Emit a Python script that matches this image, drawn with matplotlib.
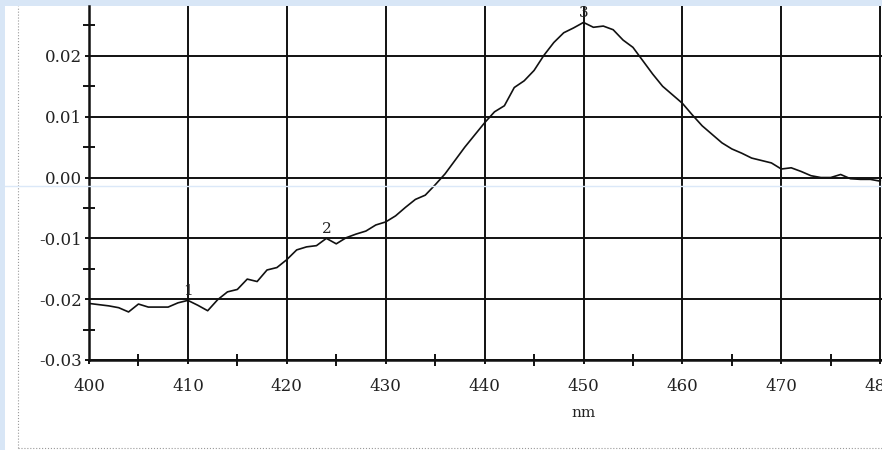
import numpy as np
import matplotlib.pyplot as plt
from matplotlib.patches import Rectangle
from matplotlib.lines import Line2D
from matplotlib.ticker import FixedLocator, FormatStrFormatter

# Spectrum (1 nm steps)
wavelength = np.arange(400, 481)
absorbance = [
    -0.0207, -0.0209, -0.0211, -0.0214, -0.0221, -0.0208, -0.0213, -0.0213, -0.0213, -0.0206,
    -0.0202, -0.0210, -0.0219, -0.0201, -0.0188, -0.0184, -0.0167, -0.0171, -0.0152, -0.0148,
    -0.0135, -0.0119, -0.0114, -0.0112, -0.0100, -0.0109, -0.0099, -0.0093, -0.0088, -0.0078,
    -0.0073, -0.0063, -0.0049, -0.0036, -0.0029, -0.0012, 0.0006, 0.0028, 0.0050, 0.0070,
    0.0090, 0.0108, 0.0118, 0.0148, 0.0159, 0.0176, 0.0201, 0.0222, 0.0238, 0.0246,
    0.0255, 0.0247, 0.0249, 0.0243, 0.0226, 0.0214, 0.0192, 0.0170, 0.0150, 0.0136,
    0.0122, 0.0103, 0.0085, 0.0071, 0.0057, 0.0047, 0.0040, 0.0032, 0.0028, 0.0024,
    0.0014, 0.0016, 0.0010, 0.0003, 0.0000, 0.0000, 0.0005, -0.0002, -0.0003, -0.0003,
    -0.0006,
]

# Marked peaks
peak_labels = ["1", "2", "3"]
peak_nm = [410, 424, 450]

x_major = [400, 410, 420, 430, 440, 450, 460, 470, 480, 490, 500]
x_minor = [405, 415, 425, 435, 445, 455, 465, 475, 485, 495]
y_major = [-0.03, -0.02, -0.01, 0.0, 0.01, 0.02]
y_minor = [-0.025, -0.015, -0.005, 0.005, 0.015, 0.025]

plt.rcParams['axes.unicode_minus'] = False
serif = 'DejaVu Serif'

fig = plt.figure(figsize=(8.82, 4.5), dpi=100)
fig.patch.set_facecolor('#d8e6f6')
W, H = 882, 450

# white page area with dotted frame
fig.add_artist(Rectangle((5 / W, 0), 1, 444 / H, transform=fig.transFigure,
                         facecolor='white', edgecolor='none', zorder=0))
fig.add_artist(Line2D([17.5 / W, 17.5 / W], [2.5 / H, 444 / H], color='#999999',
                      lw=0.8, ls=':', zorder=1))
fig.add_artist(Line2D([17.5 / W, 1], [2.5 / H, 2.5 / H], color='#999999',
                      lw=0.8, ls=':', zorder=1))

# axes continue past the right edge (picture is cropped there)
ax = fig.add_axes([89 / W, 90 / H, 989 / W, 354 / H])
ax.set_facecolor('none')
ax.set_xlim(400, 500)
ax.set_ylim(-0.03, 0.0282)

ax.xaxis.set_major_locator(FixedLocator(x_major))
ax.xaxis.set_minor_locator(FixedLocator(x_minor))
ax.yaxis.set_major_locator(FixedLocator(y_major))
ax.yaxis.set_minor_locator(FixedLocator(y_minor))
ax.yaxis.set_major_formatter(FormatStrFormatter('%.2f'))

ax.grid(True, which='major', color='#111111', lw=1.4)
for s in ['top', 'right']:
    ax.spines[s].set_visible(False)
for s in ['left', 'bottom']:
    ax.spines[s].set_linewidth(1.8)
    ax.spines[s].set_color('#111111')

ax.tick_params(which='major', direction='out', length=3, width=1.4, color='#111111',
               labelsize=12, labelcolor='#222222')
ax.tick_params(axis='x', which='major', pad=10)
ax.tick_params(axis='y', which='major', pad=2)
ax.tick_params(which='minor', direction='inout', length=8, width=1.4, color='#111111')
for lab in ax.get_xticklabels() + ax.get_yticklabels():
    lab.set_fontfamily(serif)

ax.plot(wavelength, absorbance, color='#111111', lw=1.2)

for lab, nm in zip(peak_labels, peak_nm):
    val = absorbance[list(wavelength).index(nm)]
    ax.annotate(lab, (nm, val), xytext=(0, 2), textcoords='offset points',
                ha='center', va='bottom', fontsize=11, family=serif, color='#222222')

ax.set_xlabel('nm', fontsize=11, family=serif, color='#222222', labelpad=8)

# faint page line crossing the picture
fig.add_artist(Line2D([5 / W, 1], [1 - 186 / H, 1 - 186 / H], color='#dbe8f8',
                      lw=1.0, zorder=5))

fig.savefig('out.png', dpi=100, facecolor=fig.get_facecolor())
